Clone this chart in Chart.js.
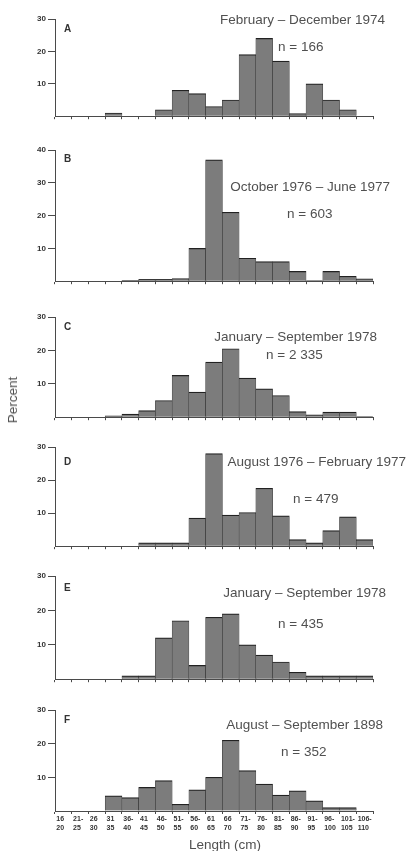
<!DOCTYPE html>
<html lang="en">
<head>
    <meta charset="UTF-8">
    <title>Length frequency</title>
    <script src="https://cdn.jsdelivr.net/npm/chart.js"></script>
    <style>
        body {
            margin: 0;
            width: 406px;
            height: 851px;
            position: relative;
            overflow: hidden;
            background: #fff;
            font-family: "Liberation Sans", Arial, sans-serif;
        }
        canvas { position: absolute; left: 0; }
        .txt {
            position: absolute;
            white-space: nowrap;
            color: #505050;
            font-size: 13.5px;
            line-height: 16px;
        }
        .letter { font-size: 10px; font-weight: bold; color: #333; }
    </style>
</head>
<body>
<script>
    // length classes (cm), two lines per tick label
    const lengthClasses = [
        ['16', '20'], ['21-', '25'], ['26', '30'], ['31', '35'], ['36-', '40'],
        ['41', '45'], ['46-', '50'], ['51-', '55'], ['56-', '60'], ['61', '65'],
        ['66', '70'], ['71-', '75'], ['76-', '80'], ['81-', '85'], ['86-', '90'],
        ['91-', '95'], ['96-', '100'], ['101-', '105'], ['106-', '110']
    ];

    // percent per class
    const percentA = [0, 0, 0, 1, 0, 0, 2, 8, 7, 3, 5, 19, 24, 17, 0.8, 10, 5, 2, 0];
    const percentB = [0, 0, 0, 0, 0.3, 0.6, 0.6, 0.8, 10, 37, 21, 7, 6, 6, 3, 0.2, 3, 1.5, 0.7];
    const percentC = [0, 0, 0, 0.4, 0.9, 2, 5, 12.5, 7.5, 16.5, 20.5, 11.7, 8.5, 6.5, 1.7, 0.7, 1.5, 1.5, 0.2];
    const percentD = [0, 0, 0, 0, 0, 1, 1, 1, 8.5, 28, 9.4, 10.2, 17.5, 9.2, 2, 1, 4.7, 8.9, 2];
    const percentE = [0, 0, 0, 0, 1, 1, 12, 17, 4, 18, 19, 10, 7, 5, 2, 1, 1, 1, 1];
    const percentF = [0, 0, 0, 4.5, 4, 7, 9, 2, 6.3, 10, 21, 12, 8, 4.7, 6, 3, 1, 1, 0];

    const panelLetters = ['A', 'B', 'C', 'D', 'E', 'F'];
    const periods = [
        'February – December 1974',
        'October 1976 – June 1977',
        'January – September 1978',
        'August 1976 – February 1977',
        'January – September 1978',
        'August – September 1898'
    ];
    const sampleSizes = ['n = 166', 'n = 603', 'n = 2 335', 'n = 479', 'n = 435', 'n = 352'];
    const yAxisMax = [30, 40, 30, 30, 30, 30];
    const series = [percentA, percentB, percentC, percentD, percentE, percentF];

    // where each panel sits on the page (plot top/bottom, text anchors)
    const layout = [
        { top: 19,    bottom: 116.7, titleRight: 385, titleY: 20,  nX: 278, nY: 46.7,  letterY: 28.5 },
        { top: 150,   bottom: 282.3, titleRight: 390, titleY: 187, nX: 287, nY: 214,   letterY: 159 },
        { top: 316.7, bottom: 417.7, titleRight: 377, titleY: 337, nX: 266, nY: 354.7, letterY: 326.7 },
        { top: 446.7, bottom: 547,   titleRight: 406, titleY: 462, nX: 293, nY: 498.7, letterY: 462 },
        { top: 575.7, bottom: 680,   titleRight: 386, titleY: 593, nX: 278, nY: 623.7, letterY: 588 },
        { top: 710,   bottom: 810.7, titleRight: 383, titleY: 725, nX: 281, nY: 752,   letterY: 720 }
    ];

    const padTop = 8;
    const axisColor = '#4a4a4a';

    function addText(cls, text, css) {
        const d = document.createElement('div');
        d.className = cls;
        d.textContent = text;
        Object.assign(d.style, css);
        document.body.appendChild(d);
        return d;
    }

    series.forEach((values, i) => {
        const pos = layout[i];
        const last = i === series.length - 1;
        const axisH = last ? 30 : 6;
        const plotH = pos.bottom - pos.top;

        const canvas = document.createElement('canvas');
        canvas.width = 406;
        canvas.height = Math.round(padTop + plotH + axisH);
        canvas.style.top = (pos.top - padTop) + 'px';
        document.body.appendChild(canvas);

        new Chart(canvas.getContext('2d'), {
            type: 'bar',
            data: {
                labels: lengthClasses,
                datasets: [{
                    data: values,
                    backgroundColor: '#7c7c7c',
                    borderColor: '#222',
                    borderWidth: { top: 1.2, left: 0.45, right: 0.45, bottom: 0 },
                    categoryPercentage: 1,
                    barPercentage: 1
                }]
            },
            options: {
                responsive: false,
                animation: false,
                layout: { padding: { top: padTop, right: 33, left: 0, bottom: 0 } },
                plugins: { legend: { display: false }, tooltip: { enabled: false } },
                scales: {
                    x: {
                        offset: true,
                        grid: { offset: true, drawOnChartArea: false, tickLength: 3, color: axisColor },
                        border: { color: axisColor, width: 1 },
                        ticks: {
                            display: last,
                            autoSkip: false,
                            maxRotation: 0,
                            minRotation: 0,
                            align: 'start',
                            labelOffset: -7,
                            padding: 0,
                            color: '#333',
                            font: { size: 7, weight: 'bold', lineHeight: 1.35, family: '"Liberation Sans", Arial, sans-serif' }
                        },
                        afterFit: s => { s.height = axisH; }
                    },
                    y: {
                        min: 0,
                        max: yAxisMax[i],
                        grid: {
                            drawOnChartArea: false,
                            tickLength: 7,
                            color: c => (c.tick && c.tick.value === 0) ? 'rgba(0,0,0,0)' : axisColor
                        },
                        border: { color: axisColor, width: 1 },
                        ticks: {
                            stepSize: 10,
                            padding: 2,
                            color: '#333',
                            font: { size: 8, weight: 'bold', family: '"Liberation Sans", Arial, sans-serif' },
                            callback: v => v === 0 ? '' : v
                        },
                        afterFit: s => { s.width = 55; }
                    }
                }
            }
        });

        addText('txt letter', panelLetters[i], { left: '64px', top: (pos.letterY - 8) + 'px' });
        addText('txt', periods[i], { right: (406 - pos.titleRight) + 'px', top: (pos.titleY - 8) + 'px' });
        addText('txt', sampleSizes[i], { left: pos.nX + 'px', top: (pos.nY - 8) + 'px' });
    });

    addText('txt', 'Percent', { left: '13px', top: '400px', transform: 'translate(-50%, -50%) rotate(-90deg)' });
    addText('txt', 'Length (cm)', { left: '225px', top: '845px', transform: 'translate(-50%, -50%)' });
</script>
</body>
</html>
